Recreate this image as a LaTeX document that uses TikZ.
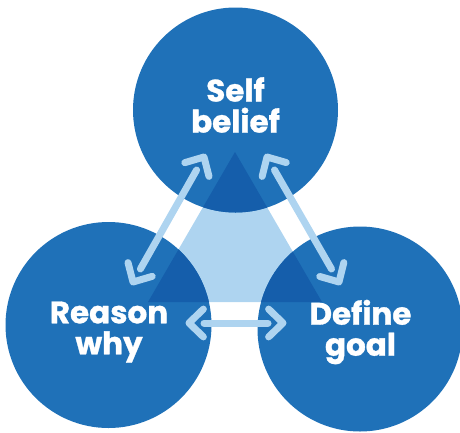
\documentclass[tikz,border=0pt]{standalone}
\usepackage{fontspec}
\setmainfont{Poppins}[BoldFeatures={FakeBold=1}]
\usetikzlibrary{calc}
\definecolor{cblue}{HTML}{1F71B8}
\definecolor{cdark}{HTML}{155EAB}
\definecolor{clight}{HTML}{AED4F0}
\tikzset{
  circ/.style={fill=cblue},
  lbl/.style={text=white, font=\bfseries\fontsize{31}{31}\selectfont, align=center},
  shaft/.style={draw=clight, line width=7pt, line cap=round, shorten <=15pt, shorten >=15pt},
  chev/.style={draw=clight, line width=7pt, line cap=round, line join=round}
}
\newcommand{\chevron}[2]{\draw[chev] ($(#1)!20pt!-44:(#2)$) -- (#1) -- ($(#1)!20pt!44:(#2)$);}
\begin{document}
\begin{tikzpicture}[x=1pt,y=-1pt]
\useasboundingbox (0,0) rectangle (460,432);
% triangle
\coordinate (tA) at (235,152);
\coordinate (tB) at (148,302);
\coordinate (tC) at (322,302);
\fill[clight] (tA) -- (tB) -- (tC) -- cycle;
% circles
\fill[circ] (235.5,110) circle (102.5);
\fill[circ] (108.5,325) circle (103);
\fill[circ] (360,329) circle (102.5);
\begin{scope}
\clip (tA) -- (tB) -- (tC) -- cycle;
\fill[cdark] (235.5,110) circle (102.5);
\fill[cdark] (108.5,325) circle (103);
\fill[cdark] (360,329) circle (102.5);
\end{scope}
% labels
\node[lbl] (self) at (235.5,105) {Self\\belief};
\node[lbl] (reason) at (109,332) {Reason\\why};
\node[lbl] (define) at (360.5,332) {Define\\goal};
% arrow end points
\coordinate (a1) at (204,157);
\coordinate (a2) at (133,282);
\coordinate (b1) at (267,157);
\coordinate (b2) at (339,282);
\coordinate (c1) at (189,323);
\coordinate (c2) at (283,323);
\draw[shaft] (a1) -- (a2);
\draw[shaft] (b1) -- (b2);
\draw[shaft] (c1) -- (c2);
\chevron{a1}{a2}
\chevron{a2}{a1}
\chevron{b1}{b2}
\chevron{b2}{b1}
\chevron{c1}{c2}
\chevron{c2}{c1}
\end{tikzpicture}
\end{document}
